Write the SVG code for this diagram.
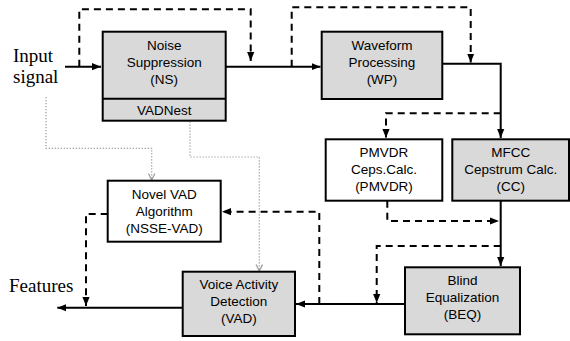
<svg xmlns="http://www.w3.org/2000/svg" width="570" height="341" viewBox="0 0 570 341">
<defs>
<marker id="ah" viewBox="0 0 10 8" refX="10" refY="4" markerWidth="9" markerHeight="8" markerUnits="userSpaceOnUse" orient="auto">
<path d="M0,0 L10,4 L0,8 Z" fill="#000"/>
</marker>
<marker id="gh" viewBox="0 0 10 10" refX="9" refY="5" markerWidth="8" markerHeight="8" markerUnits="userSpaceOnUse" orient="auto">
<path d="M1,1 L9,5 L1,9" fill="none" stroke="#999" stroke-width="1.5"/>
</marker>
</defs>
<style>
.box{stroke:#000;stroke-width:2}
.g{fill:#d9d9d9}
.w{fill:#fff}
.t{font-family:"Liberation Sans",Arial,sans-serif;font-size:13.5px;text-anchor:middle;fill:#000}
.s{font-family:"Liberation Serif","Times New Roman",serif;font-size:19px;fill:#000}
.solid{fill:none;stroke:#000;stroke-width:2}
.dash{fill:none;stroke:#000;stroke-width:2;stroke-dasharray:7,5}
.dot{fill:none;stroke:#999;stroke-width:1.2;stroke-dasharray:1.2,1.8}
</style>
<rect width="570" height="341" fill="#fff"/>
<text class="s" x="13" y="62">Input</text>
<text class="s" x="13" y="83">signal</text>
<text class="s" x="9" y="292">Features</text>
<g id="connectors">
<path class="solid" d="M65,66.7 H101" marker-end="url(#ah)"/>
<path class="dash" d="M79.3,66.7 V9.3 H250.7 V61" marker-end="url(#ah)"/>
<path class="solid" d="M225.7,66.7 H320.5" marker-end="url(#ah)"/>
<path class="dash" d="M291.7,66.7 V7.3 H470.7 V62.5" marker-end="url(#ah)"/>
<path class="solid" d="M442.3,63.7 H500.7 V138" marker-end="url(#ah)"/>
<path class="dash" d="M500.7,113.3 H386 V138" marker-end="url(#ah)"/>
<path class="dash" d="M387.3,200.7 V221 H499" marker-end="url(#ah)"/>
<path class="solid" d="M500.7,200.7 V266" marker-end="url(#ah)"/>
<path class="dash" d="M500.7,246 H376.7 V303" marker-end="url(#ah)"/>
<path class="solid" d="M405,304 H296" marker-end="url(#ah)"/>
<path class="dash" d="M319.3,304 V211.7 H222" marker-end="url(#ah)"/>
<path class="dash" d="M107.7,214 H86 V306" marker-end="url(#ah)"/>
<path class="solid" d="M182.7,307.7 H57.3" marker-end="url(#ah)"/>
<path class="dot" d="M46,97 V148.3 H151.7 V180" marker-end="url(#gh)"/>
<path class="dot" d="M190,121.5 V157 H259.3 V271" marker-end="url(#gh)"/>
</g>
<g id="ns">
<rect class="box g" x="102.7" y="31.7" width="123" height="89"/>
<line x1="102.7" y1="98.7" x2="225.7" y2="98.7" stroke="#000" stroke-width="2"/>
<text class="t" x="164.2" y="49.5">Noise</text>
<text class="t" x="164.2" y="66.5">Suppression</text>
<text class="t" x="164.2" y="84">(NS)</text>
<text class="t" x="164.2" y="115">VADNest</text>
</g>
<g id="wp">
<rect class="box g" x="321.7" y="31.7" width="120.6" height="67.3"/>
<text class="t" x="382" y="49.5">Waveform</text>
<text class="t" x="382" y="66.5">Processing</text>
<text class="t" x="382" y="84">(WP)</text>
</g>
<g id="pmvdr">
<rect class="box w" x="325.7" y="139.3" width="116.6" height="61.4"/>
<text class="t" x="384" y="157">PMVDR</text>
<text class="t" x="384" y="174">Ceps.Calc.</text>
<text class="t" x="384" y="191">(PMVDR)</text>
</g>
<g id="cc">
<rect class="box g" x="452.3" y="139.3" width="116.7" height="61.4"/>
<text class="t" x="510.7" y="157">MFCC</text>
<text class="t" x="510.7" y="174">Cepstrum Calc.</text>
<text class="t" x="510.7" y="191">(CC)</text>
</g>
<g id="nsse">
<rect class="box w" x="107.7" y="180.7" width="113" height="61"/>
<text class="t" x="164.2" y="198.5">Novel VAD</text>
<text class="t" x="164.2" y="215.5">Algorithm</text>
<text class="t" x="164.2" y="232.5">(NSSE-VAD)</text>
</g>
<g id="beq">
<rect class="box g" x="405" y="267.3" width="115" height="67"/>
<text class="t" x="462.5" y="285">Blind</text>
<text class="t" x="462.5" y="302">Equalization</text>
<text class="t" x="462.5" y="319">(BEQ)</text>
</g>
<g id="vad">
<rect class="box g" x="182.7" y="271.7" width="112.3" height="64.3"/>
<text class="t" x="238.8" y="289">Voice Activity</text>
<text class="t" x="238.8" y="306">Detection</text>
<text class="t" x="238.8" y="323">(VAD)</text>
</g>
</svg>
